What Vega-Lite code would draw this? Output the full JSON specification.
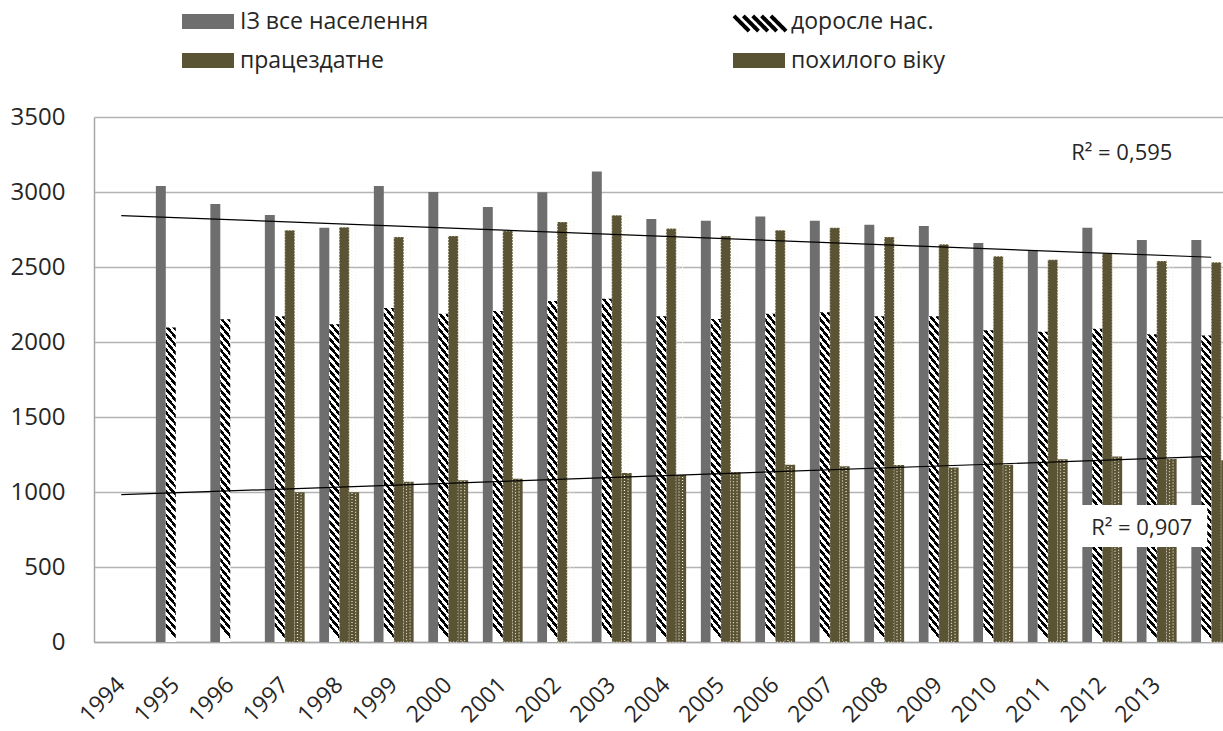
{
  "$schema": "https://vega.github.io/schema/vega-lite/v6.json",
  "width": 1129,
  "height": 525,
  "autosize": {"type": "none"},
  "padding": {"left": 94, "top": 117, "right": 0, "bottom": 89},
  "background": "white",
  "config": {"view": {"stroke": null}, "font": "Open Sans"},
  "datasets": {
    "bars": [
      {"year": "1995", "series": "ІЗ все населення", "value": 3040},
      {"year": "1996", "series": "ІЗ все населення", "value": 2920},
      {"year": "1997", "series": "ІЗ все населення", "value": 2847},
      {"year": "1998", "series": "ІЗ все населення", "value": 2762},
      {"year": "1999", "series": "ІЗ все населення", "value": 3040},
      {"year": "2000", "series": "ІЗ все населення", "value": 3000},
      {"year": "2001", "series": "ІЗ все населення", "value": 2900},
      {"year": "2002", "series": "ІЗ все населення", "value": 2998},
      {"year": "2003", "series": "ІЗ все населення", "value": 3136},
      {"year": "2004", "series": "ІЗ все населення", "value": 2820},
      {"year": "2005", "series": "ІЗ все населення", "value": 2809},
      {"year": "2006", "series": "ІЗ все населення", "value": 2836},
      {"year": "2007", "series": "ІЗ все населення", "value": 2809},
      {"year": "2008", "series": "ІЗ все населення", "value": 2782},
      {"year": "2009", "series": "ІЗ все населення", "value": 2773},
      {"year": "2010", "series": "ІЗ все населення", "value": 2660},
      {"year": "2011", "series": "ІЗ все населення", "value": 2611},
      {"year": "2012", "series": "ІЗ все населення", "value": 2762},
      {"year": "2013", "series": "ІЗ все населення", "value": 2680},
      {"year": "2014", "series": "ІЗ все населення", "value": 2680},
      {"year": "1995", "series": "доросле нас.", "value": 2096},
      {"year": "1996", "series": "доросле нас.", "value": 2151},
      {"year": "1997", "series": "доросле нас.", "value": 2171},
      {"year": "1998", "series": "доросле нас.", "value": 2118},
      {"year": "1999", "series": "доросле нас.", "value": 2227},
      {"year": "2000", "series": "доросле нас.", "value": 2189},
      {"year": "2001", "series": "доросле нас.", "value": 2207},
      {"year": "2002", "series": "доросле нас.", "value": 2273},
      {"year": "2003", "series": "доросле нас.", "value": 2289},
      {"year": "2004", "series": "доросле нас.", "value": 2171},
      {"year": "2005", "series": "доросле нас.", "value": 2153},
      {"year": "2006", "series": "доросле нас.", "value": 2189},
      {"year": "2007", "series": "доросле нас.", "value": 2198},
      {"year": "2008", "series": "доросле нас.", "value": 2171},
      {"year": "2009", "series": "доросле нас.", "value": 2171},
      {"year": "2010", "series": "доросле нас.", "value": 2078},
      {"year": "2011", "series": "доросле нас.", "value": 2069},
      {"year": "2012", "series": "доросле нас.", "value": 2089},
      {"year": "2013", "series": "доросле нас.", "value": 2051},
      {"year": "2014", "series": "доросле нас.", "value": 2044},
      {"year": "1997", "series": "працездатне", "value": 2745},
      {"year": "1998", "series": "працездатне", "value": 2765},
      {"year": "1999", "series": "працездатне", "value": 2700},
      {"year": "2000", "series": "працездатне", "value": 2707},
      {"year": "2001", "series": "працездатне", "value": 2740},
      {"year": "2002", "series": "працездатне", "value": 2800},
      {"year": "2003", "series": "працездатне", "value": 2845},
      {"year": "2004", "series": "працездатне", "value": 2756},
      {"year": "2005", "series": "працездатне", "value": 2707},
      {"year": "2006", "series": "працездатне", "value": 2745},
      {"year": "2007", "series": "працездатне", "value": 2762},
      {"year": "2008", "series": "працездатне", "value": 2700},
      {"year": "2009", "series": "працездатне", "value": 2651},
      {"year": "2010", "series": "працездатне", "value": 2571},
      {"year": "2011", "series": "працездатне", "value": 2549},
      {"year": "2012", "series": "працездатне", "value": 2591},
      {"year": "2013", "series": "працездатне", "value": 2540},
      {"year": "2014", "series": "працездатне", "value": 2531},
      {"year": "1997", "series": "похилого віку", "value": 998},
      {"year": "1998", "series": "похилого віку", "value": 998},
      {"year": "1999", "series": "похилого віку", "value": 1069},
      {"year": "2000", "series": "похилого віку", "value": 1078},
      {"year": "2001", "series": "похилого віку", "value": 1089},
      {"year": "2003", "series": "похилого віку", "value": 1127},
      {"year": "2004", "series": "похилого віку", "value": 1113},
      {"year": "2005", "series": "похилого віку", "value": 1131},
      {"year": "2006", "series": "похилого віку", "value": 1182},
      {"year": "2007", "series": "похилого віку", "value": 1171},
      {"year": "2008", "series": "похилого віку", "value": 1180},
      {"year": "2009", "series": "похилого віку", "value": 1164},
      {"year": "2010", "series": "похилого віку", "value": 1182},
      {"year": "2011", "series": "похилого віку", "value": 1218},
      {"year": "2012", "series": "похилого віку", "value": 1236},
      {"year": "2013", "series": "похилого віку", "value": 1220},
      {"year": "2014", "series": "похилого віку", "value": 1211}
    ],
    "trend": [
      {"year": "1994", "trend": "ІЗ", "value": 2843},
      {"year": "2014", "trend": "ІЗ", "value": 2565},
      {"year": "1994", "trend": "похилого", "value": 982},
      {"year": "2014", "trend": "похилого", "value": 1237}
    ],
    "box": [{"year": "2013", "value": 773}],
    "note1": [{"year": "2012", "value": 3213, "label": "R² = 0,595"}],
    "note2": [{"year": "2013", "value": 713, "label": "R² = 0,907"}]
  },
  "layer": [
    {
      "data": {"name": "bars"},
      "mark": {"type": "bar", "strokeDash": [1, 2], "strokeWidth": 1.2},
      "encoding": {
        "x": {
          "field": "year", "type": "nominal",
          "scale": {"domain": ["1994","1995","1996","1997","1998","1999","2000","2001","2002","2003","2004","2005","2006","2007","2008","2009","2010","2011","2012","2013","2014"], "range": [0, 1144.5], "paddingInner": 0.27, "paddingOuter": 0.135},
          "axis": {"title": null, "labelAngle": -45, "labelAlign": "right", "labelBaseline": "middle", "labelFont": "Open Sans", "labelFontSize": 23, "labelColor": "#262626", "ticks": false, "domainColor": "#a6a6a6", "domainWidth": 1.5, "labelPadding": 39, "labelOverlap": false, "grid": false, "labelExpr": "datum.value === '2014' ? '' : datum.value"}
        },
        "xOffset": {"field": "series", "type": "nominal", "scale": {"domain": ["ІЗ все населення", "доросле нас.", "працездатне", "похилого віку"], "paddingInner": 0, "paddingOuter": 0}},
        "y": {
          "field": "value", "type": "quantitative",
          "scale": {"domain": [0, 3500], "nice": false},
          "axis": {"title": null, "format": "d", "values": [0, 500, 1000, 1500, 2000, 2500, 3000, 3500], "labelFont": "Open Sans", "labelFontSize": 24, "labelColor": "#262626", "ticks": false, "labelPadding": 29, "gridColor": "#b3b3b3", "gridWidth": 1.5, "domainColor": "#a6a6a6", "domainWidth": 1.5}
        },
        "color": {
          "field": "series", "type": "nominal",
          "scale": {
            "domain": ["ІЗ все населення", "працездатне", "доросле нас.", "похилого віку"],
            "range": ["#6e6e6e", "#5b5434", "#ffffff", "#5a5333"]
          },
          "legend": {
            "title": null, "orient": "none", "legendX": 88, "legendY": -121.5, "columns": 2, "columnPadding": 304, "rowPadding": 1, "padding": 0,
            "symbolType": "M-1,-0.29H1V0.29H-1Z", "symbolSize": 2704, "symbolStrokeWidth": 0,
            "labelFont": "Open Sans", "labelFontSize": 23, "labelColor": "#262626", "labelOffset": 6, "labelLimit": 400
          }
        },
        "stroke": {"condition": {"test": "datum.series === 'працездатне'", "value": "#f4f1e4"}, "value": null}
      }
    },
    {
      "data": {"name": "bars"},
      "transform": [{"filter": "datum.series === 'працездатне'"}],
      "mark": {"type": "bar", "width": {"band": 0.36}, "fill": "transparent", "stroke": "#f4f1e4", "strokeWidth": 1.2, "strokeDash": [1, 2]},
      "encoding": {
        "x": {"field": "year", "type": "nominal"},
        "xOffset": {"field": "series", "type": "nominal"},
        "y": {"field": "value", "type": "quantitative"}
      }
    },
    {
      "data": {"name": "bars"},
      "transform": [{"filter": "datum.series === 'доросле нас.'"}],
      "mark": {"type": "bar", "fill": {"gradient": "linear", "x1": 1, "y1": 0, "x2": 0.963, "y2": 1, "stops": [
                {"offset":0,"color":"#000"},{"offset":0.0125,"color":"#000"},{"offset":0.0125,"color":"#fff"},{"offset":0.025,"color":"#fff"},
                {"offset":0.025,"color":"#000"},{"offset":0.0375,"color":"#000"},{"offset":0.0375,"color":"#fff"},{"offset":0.05,"color":"#fff"},
                {"offset":0.05,"color":"#000"},{"offset":0.0625,"color":"#000"},{"offset":0.0625,"color":"#fff"},{"offset":0.075,"color":"#fff"},
                {"offset":0.075,"color":"#000"},{"offset":0.0875,"color":"#000"},{"offset":0.0875,"color":"#fff"},{"offset":0.1,"color":"#fff"},
                {"offset":0.1,"color":"#000"},{"offset":0.1125,"color":"#000"},{"offset":0.1125,"color":"#fff"},{"offset":0.125,"color":"#fff"},
                {"offset":0.125,"color":"#000"},{"offset":0.1375,"color":"#000"},{"offset":0.1375,"color":"#fff"},{"offset":0.15,"color":"#fff"},
                {"offset":0.15,"color":"#000"},{"offset":0.1625,"color":"#000"},{"offset":0.1625,"color":"#fff"},{"offset":0.175,"color":"#fff"},
                {"offset":0.175,"color":"#000"},{"offset":0.1875,"color":"#000"},{"offset":0.1875,"color":"#fff"},{"offset":0.2,"color":"#fff"},
                {"offset":0.2,"color":"#000"},{"offset":0.2125,"color":"#000"},{"offset":0.2125,"color":"#fff"},{"offset":0.225,"color":"#fff"},
                {"offset":0.225,"color":"#000"},{"offset":0.2375,"color":"#000"},{"offset":0.2375,"color":"#fff"},{"offset":0.25,"color":"#fff"},
                {"offset":0.25,"color":"#000"},{"offset":0.2625,"color":"#000"},{"offset":0.2625,"color":"#fff"},{"offset":0.275,"color":"#fff"},
                {"offset":0.275,"color":"#000"},{"offset":0.2875,"color":"#000"},{"offset":0.2875,"color":"#fff"},{"offset":0.3,"color":"#fff"},
                {"offset":0.3,"color":"#000"},{"offset":0.3125,"color":"#000"},{"offset":0.3125,"color":"#fff"},{"offset":0.325,"color":"#fff"},
                {"offset":0.325,"color":"#000"},{"offset":0.3375,"color":"#000"},{"offset":0.3375,"color":"#fff"},{"offset":0.35,"color":"#fff"},
                {"offset":0.35,"color":"#000"},{"offset":0.3625,"color":"#000"},{"offset":0.3625,"color":"#fff"},{"offset":0.375,"color":"#fff"},
                {"offset":0.375,"color":"#000"},{"offset":0.3875,"color":"#000"},{"offset":0.3875,"color":"#fff"},{"offset":0.4,"color":"#fff"},
                {"offset":0.4,"color":"#000"},{"offset":0.4125,"color":"#000"},{"offset":0.4125,"color":"#fff"},{"offset":0.425,"color":"#fff"},
                {"offset":0.425,"color":"#000"},{"offset":0.4375,"color":"#000"},{"offset":0.4375,"color":"#fff"},{"offset":0.45,"color":"#fff"},
                {"offset":0.45,"color":"#000"},{"offset":0.4625,"color":"#000"},{"offset":0.4625,"color":"#fff"},{"offset":0.475,"color":"#fff"},
                {"offset":0.475,"color":"#000"},{"offset":0.4875,"color":"#000"},{"offset":0.4875,"color":"#fff"},{"offset":0.5,"color":"#fff"},
                {"offset":0.5,"color":"#000"},{"offset":0.5125,"color":"#000"},{"offset":0.5125,"color":"#fff"},{"offset":0.525,"color":"#fff"},
                {"offset":0.525,"color":"#000"},{"offset":0.5375,"color":"#000"},{"offset":0.5375,"color":"#fff"},{"offset":0.55,"color":"#fff"},
                {"offset":0.55,"color":"#000"},{"offset":0.5625,"color":"#000"},{"offset":0.5625,"color":"#fff"},{"offset":0.575,"color":"#fff"},
                {"offset":0.575,"color":"#000"},{"offset":0.5875,"color":"#000"},{"offset":0.5875,"color":"#fff"},{"offset":0.6,"color":"#fff"},
                {"offset":0.6,"color":"#000"},{"offset":0.6125,"color":"#000"},{"offset":0.6125,"color":"#fff"},{"offset":0.625,"color":"#fff"},
                {"offset":0.625,"color":"#000"},{"offset":0.6375,"color":"#000"},{"offset":0.6375,"color":"#fff"},{"offset":0.65,"color":"#fff"},
                {"offset":0.65,"color":"#000"},{"offset":0.6625,"color":"#000"},{"offset":0.6625,"color":"#fff"},{"offset":0.675,"color":"#fff"},
                {"offset":0.675,"color":"#000"},{"offset":0.6875,"color":"#000"},{"offset":0.6875,"color":"#fff"},{"offset":0.7,"color":"#fff"},
                {"offset":0.7,"color":"#000"},{"offset":0.7125,"color":"#000"},{"offset":0.7125,"color":"#fff"},{"offset":0.725,"color":"#fff"},
                {"offset":0.725,"color":"#000"},{"offset":0.7375,"color":"#000"},{"offset":0.7375,"color":"#fff"},{"offset":0.75,"color":"#fff"},
                {"offset":0.75,"color":"#000"},{"offset":0.7625,"color":"#000"},{"offset":0.7625,"color":"#fff"},{"offset":0.775,"color":"#fff"},
                {"offset":0.775,"color":"#000"},{"offset":0.7875,"color":"#000"},{"offset":0.7875,"color":"#fff"},{"offset":0.8,"color":"#fff"},
                {"offset":0.8,"color":"#000"},{"offset":0.8125,"color":"#000"},{"offset":0.8125,"color":"#fff"},{"offset":0.825,"color":"#fff"},
                {"offset":0.825,"color":"#000"},{"offset":0.8375,"color":"#000"},{"offset":0.8375,"color":"#fff"},{"offset":0.85,"color":"#fff"},
                {"offset":0.85,"color":"#000"},{"offset":0.8625,"color":"#000"},{"offset":0.8625,"color":"#fff"},{"offset":0.875,"color":"#fff"},
                {"offset":0.875,"color":"#000"},{"offset":0.8875,"color":"#000"},{"offset":0.8875,"color":"#fff"},{"offset":0.9,"color":"#fff"},
                {"offset":0.9,"color":"#000"},{"offset":0.9125,"color":"#000"},{"offset":0.9125,"color":"#fff"},{"offset":0.925,"color":"#fff"},
                {"offset":0.925,"color":"#000"},{"offset":0.9375,"color":"#000"},{"offset":0.9375,"color":"#fff"},{"offset":0.95,"color":"#fff"},
                {"offset":0.95,"color":"#000"},{"offset":0.9625,"color":"#000"},{"offset":0.9625,"color":"#fff"},{"offset":0.975,"color":"#fff"},
                {"offset":0.975,"color":"#000"},{"offset":0.9875,"color":"#000"},{"offset":0.9875,"color":"#fff"},{"offset":1,"color":"#fff"}
              ]}},
      "encoding": {
        "x": {"field": "year", "type": "nominal"},
        "xOffset": {"field": "series", "type": "nominal"},
        "y": {"field": "value", "type": "quantitative"}
      }
    },
    {
      "data": {"name": "bars"},
      "transform": [{"filter": "datum.series === 'доросле нас.'"}],
      "mark": {"type": "line", "color": "#000000", "opacity": 0},
      "encoding": {
        "x": {"field": "year", "type": "nominal"},
        "y": {"field": "value", "type": "quantitative"},
        "strokeDash": {
          "field": "series", "type": "nominal",
          "scale": {"domain": ["доросле нас."], "range": [[1, 0]]},
          "legend": {
            "title": null, "orient": "none", "legendX": 638, "legendY": -121.5, "padding": 0,
            "symbolType": "M-1,-0.29L-0.42,0.29M-0.64,-0.29L-0.06,0.29M-0.28,-0.29L0.3,0.29M0.06,-0.29L0.64,0.29M0.42,-0.29L1,0.29",
            "symbolSize": 2704, "symbolStrokeWidth": 4, "symbolStrokeColor": "#000000", "symbolOpacity": 1,
            "labelExpr": "''", "labelFontSize": 1, "labelOffset": 0
          }
        }
      }
    },
    {
      "data": {"name": "trend"},
      "mark": {"type": "line", "color": "#000000", "strokeWidth": 1.2},
      "encoding": {
        "x": {"field": "year", "type": "nominal"},
        "y": {"field": "value", "type": "quantitative"},
        "detail": {"field": "trend", "type": "nominal"}
      }
    },
    {
      "data": {"name": "box"},
      "mark": {"type": "point", "shape": "M-1,-0.33H1V0.33H-1Z", "filled": true, "fill": "#ffffff", "opacity": 1, "size": 16129, "xOffset": -13, "strokeWidth": 0},
      "encoding": {
        "x": {"field": "year", "type": "nominal"},
        "y": {"field": "value", "type": "quantitative"}
      }
    },
    {
      "data": {"name": "note1"},
      "mark": {"type": "text", "font": "Open Sans", "fontSize": 22, "color": "#262626", "align": "center", "baseline": "alphabetic", "dx": 19.5},
      "encoding": {
        "x": {"field": "year", "type": "nominal"},
        "y": {"field": "value", "type": "quantitative"},
        "text": {"field": "label"}
      }
    },
    {
      "data": {"name": "note2"},
      "mark": {"type": "text", "font": "Open Sans", "fontSize": 22, "color": "#262626", "align": "center", "baseline": "alphabetic", "dx": -15},
      "encoding": {
        "x": {"field": "year", "type": "nominal"},
        "y": {"field": "value", "type": "quantitative"},
        "text": {"field": "label"}
      }
    }
  ]
}
